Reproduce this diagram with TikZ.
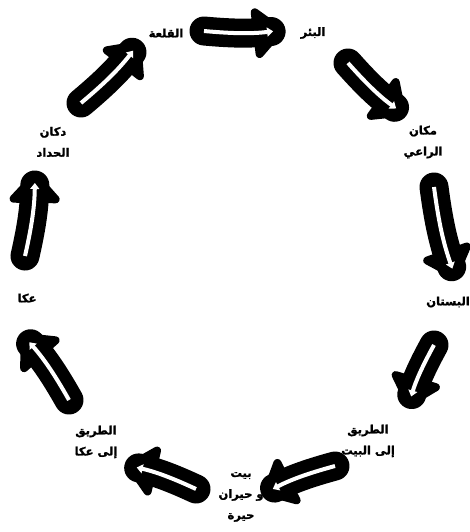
\documentclass[tikz,border=0pt]{standalone}
\usepackage{fontspec}
\usetikzlibrary{arrows.meta,decorations.markings}
\newfontfamily\arabicfont[Script=Arabic,BoldFeatures={FakeBold=1.5}]{DejaVu Sans}
\TeXXeTstate=1
\begin{document}
\begin{tikzpicture}[x=1pt,y=-1pt,
  lbl/.style={font=\arabicfont\bfseries\fontsize{11.5}{21}\selectfont, align=center, inner sep=0pt},
  blk/.style={line width=29pt, line cap=round, shorten >=13pt,
    postaction={decorate, decoration={markings, mark=at position 1 with {
      \filldraw[line width=8pt, line join=round] (-4,0) -- (-27,-21) -- (-27,21) -- cycle;}}}},
  wht/.style={white, line width=4pt, shorten >=11pt, -{Triangle[length=6pt,width=9pt]}}]
\useasboundingbox (0,0) rectangle (469,532);
% labels
\node[lbl] (qalaa) at (166,33) {\beginR القلعة\endR};
\node[lbl] (bir) at (313,33) {\beginR البئر\endR};
\node[lbl] (rai) at (423,142) {\beginR مكان\endR\\\beginR الراعي\endR};
\node[lbl] (bustan) at (448,302) {\beginR البستان\endR};
\node[lbl] (tbayt) at (368,441) {\beginR الطريق\endR\\\beginR إلى البيت\endR};
\node[lbl] (bayt) at (241,497) {\beginR بيت\endR\\\beginR و حيران\endR\\\beginR حيرة\endR};
\node[lbl] (takka) at (96,442) {\beginR الطريق\endR\\\beginR إلى عكا\endR};
\node[lbl] (akka) at (27,298) {\beginR عكا\endR};
\node[lbl] (haddad) at (53,142) {\beginR دكان\endR\\\beginR الحداد\endR};
% arrow end points
\coordinate (a1s) at (204,31);  \coordinate (a1e) at (284,30);
\coordinate (a2s) at (348,63);  \coordinate (a2e) at (405,115);
\coordinate (a3s) at (434,187); \coordinate (a3e) at (456,279);
\coordinate (a4s) at (434,345); \coordinate (a4e) at (408,407);
\coordinate (a5s) at (335,466); \coordinate (a5e) at (263,494);
\coordinate (a6s) at (196,489); \coordinate (a6e) at (126,465);
\coordinate (a7s) at (69,400);  \coordinate (a7e) at (22,334);
\coordinate (a8s) at (25,256);  \coordinate (a8e) at (35,172);
\coordinate (a9s) at (81,103);  \coordinate (a9e) at (140,42);
\foreach \i in {1,...,9}{
  \draw[blk] (a\i s) to[bend right=6] (a\i e);
  \draw[wht] (a\i s) to[bend right=6] (a\i e);
}
\end{tikzpicture}
\end{document}
